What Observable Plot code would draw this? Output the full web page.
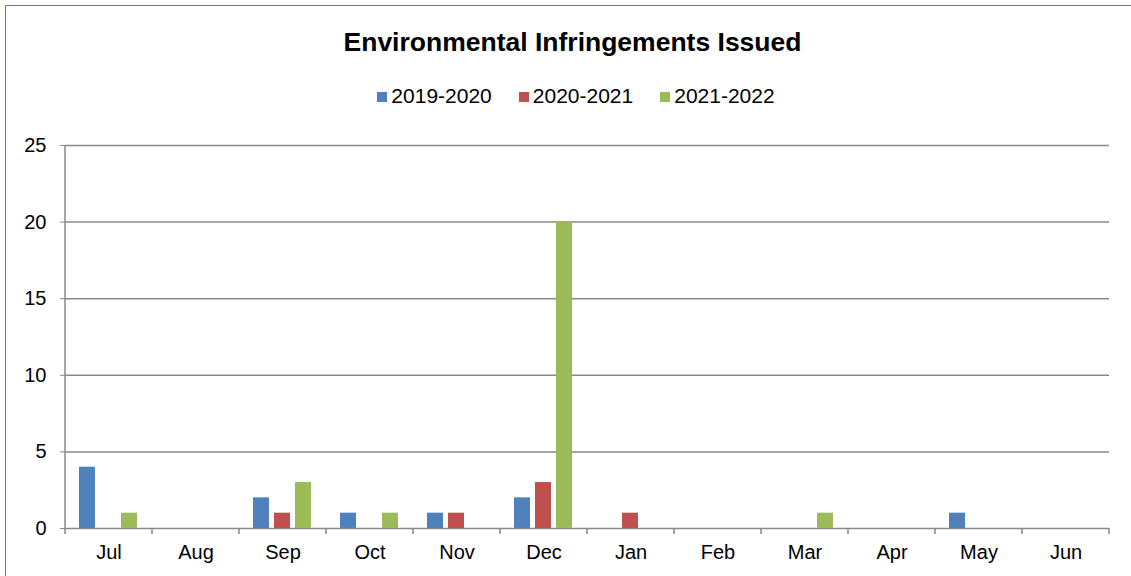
<!DOCTYPE html>
<html><head><meta charset="utf-8">
<script src="https://cdn.jsdelivr.net/npm/d3@7"></script>
<script src="https://cdn.jsdelivr.net/npm/@observablehq/plot@0.6"></script>
<style>
body{margin:0;background:#fff;font-family:"Liberation Sans",Arial,sans-serif;overflow:hidden;width:1131px;height:576px}
#frame{position:absolute;left:5px;top:5px;width:1160px;height:620px;border:1px solid #4f81bd;box-sizing:border-box}
#title{position:absolute;left:0;top:27px;width:1145px;text-align:center;font-weight:bold;font-size:26.5px;line-height:30px;color:#000}
#legend{position:absolute;left:0;top:84px;width:1152px;display:flex;justify-content:center;align-items:flex-start;font-size:21px;line-height:24px;color:#000}
#legend .item{display:flex;align-items:flex-start;margin:0 13.5px}
#legend .sw{width:10px;height:10px;margin-top:8px;margin-right:4px}
#chart{position:absolute;left:0;top:120px}
</style></head><body>
<div id="frame"></div>
<div id="title">Environmental Infringements Issued</div>
<div id="legend"></div>
<div id="chart"></div>
<script>
const months = ["Jul","Aug","Sep","Oct","Nov","Dec","Jan","Feb","Mar","Apr","May","Jun"];
const series = ["2019-2020","2020-2021","2021-2022"];
const colors = ["#4f81bd","#c0504d","#9bbb59"];
const v2019_2020 = [4,0,2,1,1,2,0,0,0,0,1,0];
const v2020_2021 = [0,0,1,0,1,3,1,0,0,0,0,0];
const v2021_2022 = [1,0,3,1,0,20,0,0,1,0,0,0];
const yTicks = [0,5,10,15,20,25];

const seriesValues = [v2019_2020, v2020_2021, v2021_2022];
const data = [];
months.forEach((m, i) => {
  series.forEach((s, j) => data.push({month: m, series: s, value: seriesValues[j][i]}));
});

// legend
const leg = d3.select("#legend");
series.forEach((s, j) => {
  const it = leg.append("div").attr("class", "item");
  it.append("div").attr("class", "sw").style("background", colors[j]);
  it.append("span").text(s);
});

const gridColor = "#898989";
const plot = Plot.plot({
  width: 1131, height: 456,
  marginTop: 25, marginBottom: 48, marginLeft: 64, marginRight: 21,
  style: {fontFamily: "Liberation Sans, Arial, sans-serif", fontSize: "20px", color: "black", background: "transparent", overflow: "visible"},
  fx: {domain: months, padding: 0, label: null},
  x: {domain: series, paddingInner: 0.227, paddingOuter: 0.595, axis: null},
  y: {domain: [0, 25]},
  color: {domain: series, range: colors},
  marks: [
    Plot.ruleY(yTicks, {stroke: gridColor, strokeWidth: 1.5}),
    Plot.barY(data, {fx: "month", x: "series", y: "value", fill: "series"}),
    Plot.axisY(yTicks, {tickSize: 5, tickPadding: 14, stroke: gridColor, fill: "black", label: null, fontSize: 20}),
    Plot.axisFx({anchor: "bottom", tickSize: 0, tickPadding: 16, label: null, fontSize: 20, fill: "black"})
  ]
});
document.getElementById("chart").appendChild(plot);

// axis line and category boundary ticks drawn from the plot's own scales
const fxs = plot.scale("fx"), ys = plot.scale("y");
const y0 = ys.apply(0), yTop = ys.apply(25);
const edges = months.map(m => fxs.apply(m));
edges.push(fxs.apply(months[months.length - 1]) + fxs.bandwidth);
const g = d3.select(plot).append("g").attr("stroke", gridColor).attr("stroke-width", 1.5);
edges.forEach(x => g.append("line").attr("x1", x).attr("x2", x).attr("y1", y0).attr("y2", y0 + 6));
g.append("line").attr("x1", edges[0]).attr("x2", edges[0]).attr("y1", yTop).attr("y2", y0);
</script>
</body></html>
